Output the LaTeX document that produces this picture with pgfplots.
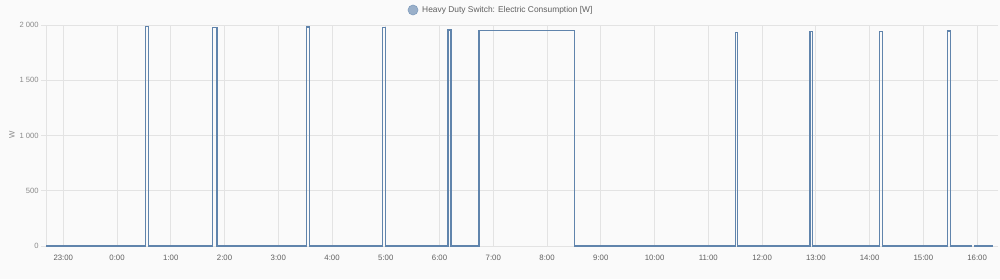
\documentclass[border=0pt]{standalone}
\usepackage{fontspec}
\setmainfont{Liberation Sans}
\usepackage{pgfplots}
\pgfplotsset{compat=1.18}
\definecolor{bg}{HTML}{FAFAFA}
\definecolor{gridc}{HTML}{E3E3E3}
\definecolor{linec}{RGB}{96,132,172}
\definecolor{legfill}{RGB}{154,176,202}
\definecolor{xtc}{HTML}{5F5F5F}
\definecolor{ytc}{HTML}{8A8A8A}
\begin{document}
\begin{tikzpicture}[x=1pt,y=1pt]
\fill[bg] (0,0) rectangle (1000,279);
\begin{axis}[
  at={(46.2pt,33pt)}, anchor=south west,
  scale only axis, width=946.8pt, height=221pt,
  xmin=-1.318, xmax=16.296, ymin=0, ymax=2000,
  axis line style={draw=none},
  xtick={-1,0,1,2,3,4,5,6,7,8,9,10,11,12,13,14,15,16},
  xticklabels={23:00,0:00,1:00,2:00,3:00,4:00,5:00,6:00,7:00,8:00,9:00,10:00,11:00,12:00,13:00,14:00,15:00,16:00},
  extra x ticks={-1.318}, extra x tick labels={},
  extra x tick style={grid=major, major grid style={gridc, line width=0.8pt}},
  ytick={0,500,1000,1500,2000},
  yticklabels={0,500,1 000,1 500,2 000},
  grid=major,
  major grid style={gridc, line width=0.8pt},
  tick align=outside,
  x tick style={draw=none},
  y tick style={gridc, line width=0.8pt},
  major tick length=5pt,
  x tick label style={font=\fontsize{7.8}{9}\selectfont, text=xtc, yshift=-1pt},
  y tick label style={font=\fontsize{7.6}{9}\selectfont, text=ytc, xshift=1pt},
  clip=false,
]
\addplot[linec, line width=1.1pt, line join=miter] coordinates {
(-1.318,0)
(0.523,0) (0.523,1985) (0.579,1985) (0.579,0)
(1.784,0) (1.784,1979) (1.859,1979) (1.859,0)
(3.527,0) (3.527,1982) (3.578,1982) (3.578,0)
(4.936,0) (4.936,1976) (4.992,1976) (4.992,0)
(6.156,0) (6.156,1955) (6.212,1955) (6.212,0)
(6.733,0) (6.733,1952) (8.514,1952) (8.514,0)
(11.503,0) (11.503,1930) (11.546,1930) (11.546,0)
(12.891,0) (12.891,1939) (12.935,1939) (12.935,0)
(14.188,0) (14.188,1943) (14.238,1943) (14.238,0)
(15.447,0) (15.447,1946) (15.503,1946) (15.503,0)
(15.912,0)
};
\addplot[linec, line width=1.1pt] coordinates {(15.95,0) (16.296,0)};
\end{axis}
\node[rotate=90, text=ytc, font=\fontsize{7.8}{9}\selectfont] at (12,144) {W};
\fill[legfill, draw=linec!80, line width=0.6pt] (413,269) circle (5);
\node[anchor=west, text=xtc, font=\fontsize{8.4}{10}\selectfont, inner sep=0pt] at (422,269) {Heavy Duty Switch: Electric Consumption [W]};
\end{tikzpicture}
\end{document}
